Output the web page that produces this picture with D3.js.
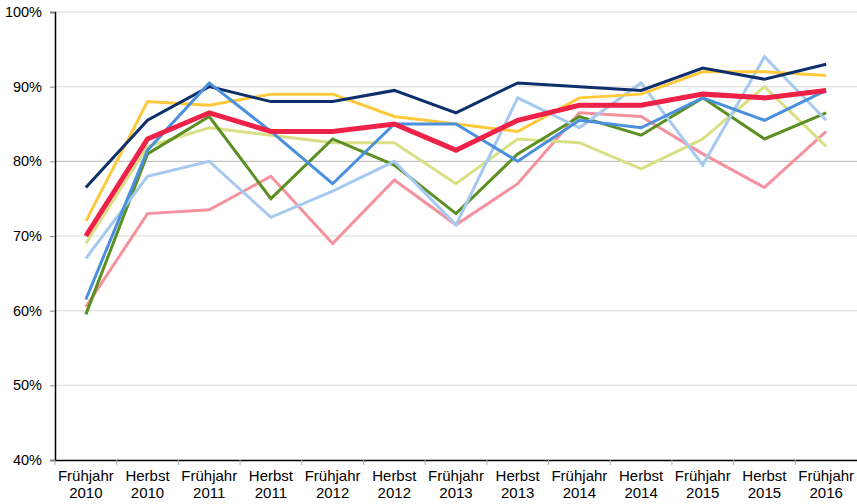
<!DOCTYPE html>
<html>
<head>
<meta charset="utf-8">
<script src="https://cdn.jsdelivr.net/npm/d3@7"></script>
<style>
body{margin:0;background:#fff;}
text{font-family:"Liberation Sans",Arial,sans-serif;}
</style>
</head>
<body>
<svg id="chart" width="857" height="504"></svg>
<script>
// periods on the x axis
var periods=["Frühjahr 2010","Herbst 2010","Frühjahr 2011","Herbst 2011","Frühjahr 2012","Herbst 2012","Frühjahr 2013","Herbst 2013","Frühjahr 2014","Herbst 2014","Frühjahr 2015","Herbst 2015","Frühjahr 2016"];
var yTicks=[40,50,60,70,80,90,100];

var pink=[60.5,73,73.5,78,69,77.5,71.5,77,86.5,86,81,76.5,84];
var lightGreen=[69,82,84.5,83.5,82.5,82.5,77,83,82.5,79,83,90,82];
var green=[59.5,81,86,75,83,79.5,73,81,86,83.5,88.5,83,86.5];
var lightBlue=[67,78,80,72.5,76,80,71.5,88.5,84.5,90.5,79.5,94,85.5];
var yellow=[72,88,87.5,89,89,86,85,84,88.5,89,92,92,91.5];
var navy=[76.5,85.5,90,88,88,89.5,86.5,90.5,90,89.5,92.5,91,93];
var blue=[61.5,81.5,90.5,84,77,85,85,80,85.5,84.5,88.5,85.5,89.5];
var red=[70,83,86.5,84,84,85,81.5,85.5,87.5,87.5,89,88.5,89.5];

var series=[
	{values:pink,color:"#f4929f",width:3},
	{values:lightGreen,color:"#d9df84",width:3},
	{values:green,color:"#5b8f22",width:3},
	{values:lightBlue,color:"#a6c9ef",width:3},
	{values:yellow,color:"#ffc93c",width:3},
	{values:navy,color:"#0d2f6b",width:3},
	{values:blue,color:"#4a90dc",width:3},
	{values:red,color:"#ee2149",width:5}
];

var svg=d3.select("#chart");
var plotLeft=55,plotRight=857,plotTop=12,plotBottom=460;

var x=d3.scaleBand().domain(periods).range([plotLeft,plotRight]);
var y=d3.scaleLinear().domain([40,100]).range([plotBottom,plotTop]);

// gridlines
svg.append("g").selectAll("line").data(yTicks.filter(function(d){return d>40;})).enter().append("line")
	.attr("x1",plotLeft).attr("x2",plotRight)
	.attr("y1",function(d){return y(d);}).attr("y2",function(d){return y(d);})
	.attr("stroke",function(d){return d==80?"#b3b3b3":"#d9d9d9";}).attr("stroke-width",1);

// y axis
var yAxis=svg.append("g").attr("transform","translate("+plotLeft+",0)")
	.call(d3.axisLeft(y).tickValues(yTicks).tickSize(5).tickFormat(function(d){return d+"%";}));
yAxis.select(".domain").attr("stroke","#000").attr("stroke-width",1.5);
yAxis.selectAll(".tick line").attr("stroke","#888");
yAxis.selectAll("text").attr("font-size",14.5).attr("fill","#000").attr("x",-13);

// x axis
var xAxis=svg.append("g").attr("transform","translate(0,"+plotBottom+")")
	.call(d3.axisBottom(x).tickSize(0).tickFormat(""));
xAxis.select(".domain").attr("stroke","#000").attr("stroke-width",1.5);
svg.append("g").selectAll("line").data(periods).enter().append("line")
	.attr("x1",function(d){return x(d);}).attr("x2",function(d){return x(d);})
	.attr("y1",plotBottom).attr("y2",plotBottom+5).attr("stroke","#aaa");

var labels=svg.append("g").selectAll("text").data(periods).enter().append("text")
	.attr("x",function(d){return x(d)+x.bandwidth()/2;})
	.attr("y",plotBottom+21).attr("text-anchor","middle").attr("font-size",15).attr("fill","#000");
labels.append("tspan").attr("x",function(d){return x(d)+x.bandwidth()/2;}).text(function(d){return d.split(" ")[0];});
labels.append("tspan").attr("x",function(d){return x(d)+x.bandwidth()/2;}).attr("dy",17).text(function(d){return d.split(" ")[1];});

var line=d3.line()
	.x(function(d,i){return x(periods[i])+x.bandwidth()/2;})
	.y(function(d){return y(d);});

svg.append("g").selectAll("path").data(series).enter().append("path")
	.attr("d",function(s){return line(s.values);})
	.attr("fill","none")
	.attr("stroke",function(s){return s.color;})
	.attr("stroke-width",function(s){return s.width;})
	.attr("stroke-linejoin","miter");
</script>
</body>
</html>
